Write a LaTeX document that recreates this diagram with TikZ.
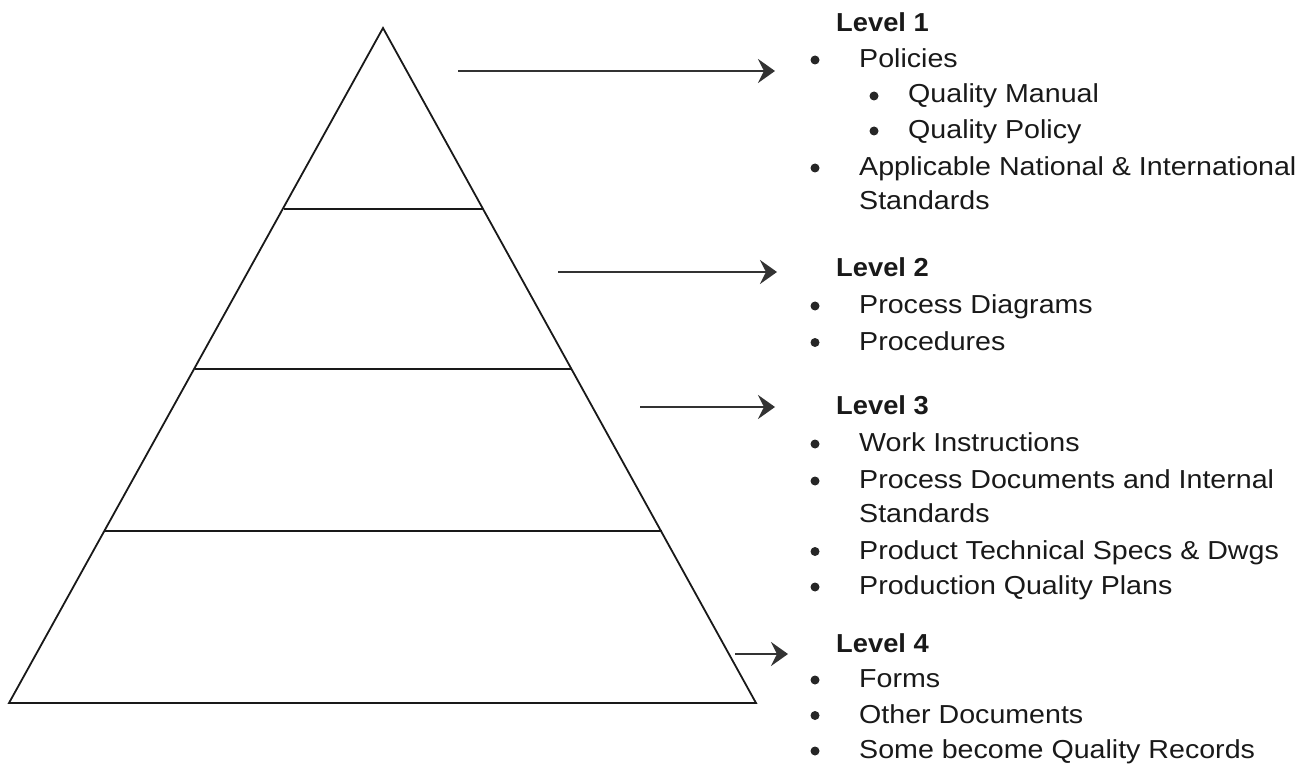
\documentclass[tikz,border=0pt]{standalone}
\usepackage{fontspec}
\setmainfont{Liberation Sans}[FakeStretch=1.1]
\newfontfamily\hfont{Liberation Sans}[FakeStretch=1.05]
\usetikzlibrary{arrows.meta}
\begin{document}
\begin{tikzpicture}[x=1pt,y=-1pt,
  pyr/.style={line width=1.8pt, line join=miter, color=black!90},
  lvl/.style={line width=1.6pt, color=black!90},
  arr/.style={line width=2.6pt, color=black!80, -{Stealth[length=17pt,width=24pt,inset=6pt]}},
  txt/.style={anchor=base west, inner sep=0pt, font=\fontsize{26}{30}\selectfont, text=black!90},
  head/.style={txt, font=\hfont\fontsize{26}{30}\selectfont\bfseries},
  bul/.style={fill=black!85, draw=none}]
\useasboundingbox (0,0) rectangle (1313,775);
% pyramid
\coordinate (apex) at (383,28);
\coordinate (bl) at (9,703);
\coordinate (br) at (756,703);
\draw[pyr] (apex) -- (br) -- (bl) -- cycle;
\coordinate (l1a) at (284,209); \coordinate (l1b) at (483,209);
\coordinate (l2a) at (195,369); \coordinate (l2b) at (572,369);
\coordinate (l3a) at (105,531); \coordinate (l3b) at (662,531);
\draw[lvl] (l1a) -- (l1b);
\draw[lvl] (l2a) -- (l2b);
\draw[lvl] (l3a) -- (l3b);
% arrows
\coordinate (a1s) at (458,71); \coordinate (a1e) at (775,71);
\coordinate (a2s) at (558,272); \coordinate (a2e) at (777,272);
\coordinate (a3s) at (640,407); \coordinate (a3e) at (775,407);
\coordinate (a4s) at (735,654); \coordinate (a4e) at (788,654);
\draw[arr] (a1s) -- (a1e);
\draw[arr] (a2s) -- (a2e);
\draw[arr] (a3s) -- (a3e);
\draw[arr] (a4s) -- (a4e);
% Level 1
\node[head] (h1) at (836,32) {Level 1};
\fill[bul] (815,60) circle (4.5);
\node[txt] (t11) at (859,67.5) {Policies};
\fill[bul] (874,96) circle (4.5);
\node[txt] (t12) at (908,103) {Quality Manual};
\fill[bul] (874,131) circle (4.5);
\node[txt] (t13) at (908,138.5) {Quality Policy};
\fill[bul] (815,168) circle (4.5);
\node[txt] (t14) at (859,175.5) {Applicable National \& International};
\node[txt] (t15) at (859,209.5) {Standards};
% Level 2
\node[head] (h2) at (836,277) {Level 2};
\fill[bul] (815,306) circle (4.5);
\node[txt] (t21) at (859,313.5) {Process Diagrams};
\fill[bul] (815,342.5) circle (4.5);
\node[txt] (t22) at (859,350) {Procedures};
% Level 3
\node[head] (h3) at (836,414) {Level 3};
\fill[bul] (815,444) circle (4.5);
\node[txt] (t31) at (859,451.5) {Work Instructions};
\fill[bul] (815,481) circle (4.5);
\node[txt] (t32) at (859,488.5) {Process Documents and Internal};
\node[txt] (t33) at (859,522) {Standards};
\fill[bul] (815,551.5) circle (4.5);
\node[txt] (t34) at (859,559) {Product Technical Specs \& Dwgs};
\fill[bul] (815,587) circle (4.5);
\node[txt] (t35) at (859,594.5) {Production Quality Plans};
% Level 4
\node[head] (h4) at (836,652) {Level 4};
\fill[bul] (815,680) circle (4.5);
\node[txt] (t41) at (859,687.5) {Forms};
\fill[bul] (815,715.5) circle (4.5);
\node[txt] (t42) at (859,723) {Other Documents};
\fill[bul] (815,751) circle (4.5);
\node[txt] (t43) at (859,758.5) {Some become Quality Records};
\end{tikzpicture}
\end{document}
